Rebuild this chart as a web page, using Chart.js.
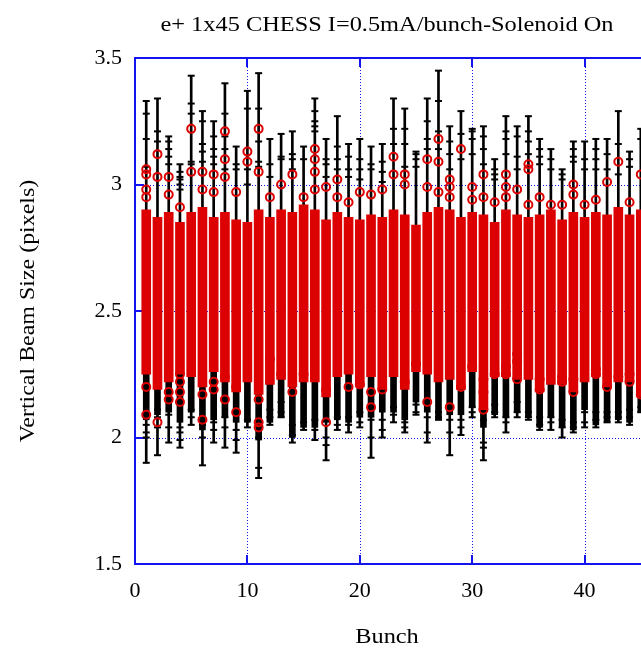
<!DOCTYPE html>
<html><head><meta charset="utf-8">
<script src="https://cdn.jsdelivr.net/npm/chart.js@4"></script>
<style>html,body{margin:0;padding:0;background:#fff;overflow:hidden;width:641px;height:654px}#wrap{width:774px;height:654px}</style>
</head><body><div id="wrap"><canvas id="c" width="774" height="654"></canvas></div>
<script>
const bunches=[1,2,3,4,5,6,7,8,9,10,11,12,13,14,15,16,17,18,19,20,21,22,23,24,25,26,27,28,29,30,31,32,33,34,35,36,37,38,39,40,41,42,43,44,45];
const xTicks=[0,10,20,30,40,50];
const yTicks=[1.5,2,2.5,3,3.5];
const whiskerTop=[3.33,3.34,3.19,3.08,3.43,3.29,3.25,3.40,3.15,3.37,3.44,3.18,3.20,3.21,3.15,3.34,3.18,3.27,3.16,3.18,3.15,3.16,3.34,3.30,3.13,3.34,3.45,3.23,3.29,3.22,3.23,3.10,3.27,3.23,3.27,3.18,3.14,3.06,3.17,3.17,3.18,3.18,3.29,3.13,3.22];
const whiskerBottom=[1.90,1.93,1.98,1.96,2.05,1.89,1.98,1.96,1.94,2.04,1.84,2.05,2.08,1.98,2.03,1.99,1.91,2.03,2.02,2.04,1.92,2.00,2.06,2.02,2.09,1.98,2.07,1.93,2.01,2.08,1.91,2.08,2.02,2.08,2.07,2.03,2.03,2.00,2.02,2.04,2.04,2.06,2.06,2.05,2.10];
const redTop=[2.90,2.87,2.89,2.85,2.89,2.91,2.87,2.89,2.86,2.85,2.90,2.87,2.90,2.89,2.92,2.90,2.86,2.89,2.87,2.86,2.88,2.87,2.90,2.88,2.84,2.89,2.91,2.90,2.87,2.89,2.88,2.85,2.90,2.88,2.87,2.88,2.90,2.86,2.89,2.87,2.89,2.88,2.91,2.88,2.90];
const redBottom=[2.25,2.19,2.22,2.25,2.24,2.20,2.26,2.22,2.18,2.22,2.17,2.21,2.23,2.20,2.22,2.22,2.16,2.24,2.25,2.20,2.24,2.19,2.24,2.19,2.26,2.25,2.22,2.23,2.19,2.26,2.11,2.24,2.24,2.23,2.23,2.18,2.21,2.21,2.18,2.22,2.24,2.20,2.22,2.22,2.16];
const blackBottom=[2.07,2.09,2.10,2.06,2.10,2.03,2.07,2.08,2.06,2.06,1.99,2.06,2.08,2.00,2.04,2.04,2.06,2.07,2.06,2.08,2.08,2.10,2.10,2.07,2.14,2.10,2.07,2.09,2.09,2.12,2.04,2.09,2.08,2.10,2.08,2.04,2.08,2.04,2.03,2.11,2.05,2.06,2.07,2.06,2.10];
const capsUpper=[[3.33,3.28,3.18,3.07],[3.34,3.21,3.17],[3.19,3.17,3.14,3.11,3.08],[3.08,3.05,3.03,3.02,3.00,2.98],[3.43,3.32,3.28,3.09,3.08],[3.29,3.25,3.16,3.13,3.09],[3.25,3.19,3.14,3.11,3.08],[3.40,3.28,3.19,3.14,3.06],[3.15,3.08,3.06],[3.37,3.30,3.06,3.00],[3.44,3.30,3.17,3.09,3.07],[3.18,3.08,3.03],[3.20,3.11,3.10],[3.21,3.12,3.10,3.06],[3.15,3.10],[3.34,3.29,3.25,3.23,3.21],[3.18,3.10,3.08,3.03],[3.27,3.15,3.10,3.06],[3.16,3.11,3.06,3.03],[3.18,3.10,3.06,3.02],[3.15,3.08,3.06],[3.16,3.09,3.05,3.01],[3.34,3.22,3.16],[3.30,3.22,3.16,3.07],[3.13,3.12,3.10,3.07],[3.34,3.25,3.18,3.14],[3.45,3.33,3.21,3.14],[3.23,3.17,3.12,3.06],[3.29,3.20,3.10],[3.22,3.21,3.18,3.12],[3.23,3.19,3.14,3.08],[3.10,3.06,3.04,3.02],[3.27,3.21,3.18,3.12],[3.23,3.19,3.11,3.06],[3.27,3.21,3.17,3.12],[3.18,3.14,3.11,3.08],[3.14,3.10,3.06],[3.06,3.04,3.02],[3.17,3.14,3.11,3.09],[3.17,3.10,3.06],[3.18,3.14,3.10,3.06],[3.18,3.12,3.06],[3.29,3.16,3.04],[3.13,3.10,3.07],[3.22,3.18]];
const capsLower=[[2.05,2.02,2.00,1.90],[2.11,2.08,2.04,1.93],[2.09,2.04,1.98],[2.04,2.02,1.99,1.96],[2.11,2.08,2.05],[2.05,2.00,1.89],[2.06,2.03,1.98],[2.08,2.04,1.96],[2.03,1.99,1.94],[2.07,2.04],[2.00,1.88,1.84],[2.11,2.08,2.05],[2.14,2.10,2.08],[2.05,2.01,1.98],[2.06,2.03],[2.07,2.03,1.99],[2.00,1.97,1.91],[2.08,2.05,2.03],[2.08,2.05,2.02],[2.10,2.06,2.04],[2.07,2.00,1.92],[2.07,2.03,2.00],[2.12,2.09,2.06],[2.06,2.04,2.02],[2.13,2.10,2.09],[2.08,2.02,1.98],[2.10,2.08,2.07],[2.07,2.02,1.93],[2.07,2.04,2.01],[2.12,2.10,2.08],[2.07,1.98,1.96,1.91],[2.13,2.10,2.08],[2.08,2.06,2.02],[2.14,2.10,2.08],[2.10,2.08,2.07],[2.08,2.05,2.03],[2.08,2.06,2.03],[2.07,2.04,2.00],[2.06,2.04,2.02],[2.10,2.06,2.04],[2.10,2.07,2.04],[2.10,2.08,2.06],[2.10,2.08,2.06],[2.11,2.08,2.05],[2.12,2.10]];
const circlesHigh=[[3.06,3.04,2.98,2.95],[3.12,3.03],[3.03,2.96],[2.91],[3.22,3.05],[3.05,2.98],[3.04,2.97],[3.21,3.10,3.03],[2.97],[3.13,3.09],[3.22,3.05],[2.95],[3.00],[3.04],[2.95],[3.14,3.10,3.05,2.98],[2.99],[3.02,2.95],[2.93],[2.97],[2.96],[2.98],[3.11,3.04],[3.04,3.00],[],[3.10,2.99],[3.18,3.09,2.97],[3.02,2.99,2.95],[3.14],[2.99,2.94],[3.04,2.95],[2.93],[3.04,2.99,2.95],[2.98],[3.08,3.06,2.92],[2.95],[2.92],[2.92],[3.00,2.96],[2.92],[2.94],[3.01],[3.09],[2.93],[3.04]];
const circlesLow=[[2.20,2.09],[2.06],[2.18,2.15],[2.25,2.22,2.18,2.14],[],[2.17,2.07],[2.22,2.19],[2.24,2.15],[2.20,2.10],[],[2.15,2.06,2.04],[2.31],[2.25],[2.18],[2.25],[],[2.19,2.06],[],[2.20],[2.21],[2.18,2.12],[2.19],[],[2.22],[2.29],[2.14],[],[2.12],[2.20],[2.28],[2.23,2.18,2.11],[2.25],[2.28,2.25],[2.33,2.30,2.23],[],[2.23,2.19],[],[2.24,2.22],[2.23,2.18],[],[2.27,2.25],[2.20],[2.24],[2.25,2.22],[2.17]];

const BLUE='#1414f0', RED='#dd0000';
const SERIF='"Liberation Serif","Times New Roman",serif';
function bars(lo,hi){return bunches.map((b,i)=>({x:b,y:[lo[i],hi[i]]}));}
function pts(lists){const out=[];bunches.forEach((b,i)=>lists[i].forEach(v=>out.push({x:b,y:v})));return out;}
function sText(ctx,t,x,y,size,sx,rot){ctx.save();ctx.translate(x,y);if(rot)ctx.rotate(rot);ctx.scale(sx,1);ctx.font=size+'px '+SERIF;ctx.textAlign='center';ctx.textBaseline='middle';ctx.fillStyle='#000';ctx.fillText(t,0,0);ctx.restore();}

const framePlugin={
  id:'frame',
  beforeDatasetsDraw(chart){
    const {ctx,chartArea:a,scales:{x,y}}=chart;
    ctx.save();
    ctx.strokeStyle=BLUE;ctx.lineWidth=1;ctx.setLineDash([1,2]);
    xTicks.forEach(v=>{if(v<=x.min||v>=x.max)return;const p=Math.round(x.getPixelForValue(v))+0.5;ctx.beginPath();ctx.moveTo(p,a.top);ctx.lineTo(p,a.bottom);ctx.stroke();});
    yTicks.forEach(v=>{if(v<=y.min||v>=y.max)return;const p=Math.round(y.getPixelForValue(v))+0.5;ctx.beginPath();ctx.moveTo(a.left,p);ctx.lineTo(a.right,p);ctx.stroke();});
    ctx.setLineDash([]);ctx.lineWidth=2;
    xTicks.forEach(v=>{const p=Math.round(x.getPixelForValue(v));ctx.beginPath();ctx.moveTo(p,a.bottom);ctx.lineTo(p,a.bottom-9);ctx.moveTo(p,a.top);ctx.lineTo(p,a.top+9);ctx.stroke();});
    yTicks.forEach(v=>{const p=Math.round(y.getPixelForValue(v));ctx.beginPath();ctx.moveTo(a.left,p);ctx.lineTo(a.left+9,p);ctx.moveTo(a.right,p);ctx.lineTo(a.right-9,p);ctx.stroke();});
    ctx.restore();
  },
  afterDatasetsDraw(chart){
    const {ctx,chartArea:a}=chart;
    ctx.save();ctx.strokeStyle=BLUE;ctx.lineWidth=2;ctx.strokeRect(a.left,a.top,a.right-a.left,a.bottom-a.top);ctx.restore();
  },
  afterDraw(chart){
    const ctx=chart.ctx;
    sText(ctx,'e+ 1x45 CHESS I=0.5mA/bunch-Solenoid On',387,25,21,1.16);
    sText(ctx,'Bunch',387,637,21,1.16);
    sText(ctx,'Vertical Beam Size (pixels)',28,311,21,1.14,-Math.PI/2);
  }
};

new Chart(document.getElementById('c'),{
  type:'scatter',
  data:{datasets:[
    {type:'scatter',data:pts(circlesHigh).concat(pts(circlesLow)),pointStyle:'circle',pointRadius:4,borderColor:RED,backgroundColor:'rgba(255,255,255,0)',borderWidth:2,order:0},
    {type:'bar',data:bars(redBottom,redTop),backgroundColor:RED,barThickness:9,grouped:false,order:1},
    {type:'bar',data:bars(blackBottom,redBottom),backgroundColor:'#000',barThickness:6,grouped:false,order:2},
    {type:'scatter',data:pts(capsUpper).concat(pts(capsLower)),pointStyle:'line',pointRadius:3.5,borderColor:'#000',borderWidth:2,order:3},
    {type:'bar',data:bars(whiskerBottom,whiskerTop),backgroundColor:'#000',barThickness:2,grouped:false,order:4}
  ]},
  options:{
    responsive:false,animation:false,
    layout:{padding:{left:0,right:77,top:58,bottom:0}},
    plugins:{legend:{display:false},tooltip:{enabled:false},title:{display:false}},
    scales:{
      x:{type:'linear',position:'bottom',min:0,max:50,offset:false,
        afterFit(s){s.height=90;},
        afterBuildTicks(s){s.ticks=xTicks.map(v=>({value:v}));},
        ticks:{font:{family:SERIF,size:22},color:'#000',padding:14,callback:v=>String(v),maxRotation:0},
        grid:{display:false,drawTicks:false,offset:false},border:{display:false}},
      y:{type:'linear',position:'left',min:1.5,max:3.5,
        afterFit(s){s.width=135;},
        afterBuildTicks(s){s.ticks=yTicks.map(v=>({value:v}));},
        ticks:{font:{family:SERIF,size:22},color:'#000',padding:13,callback:v=>String(v)},
        grid:{display:false,drawTicks:false},border:{display:false}}
    }
  },
  plugins:[framePlugin]
});
</script></body></html>
